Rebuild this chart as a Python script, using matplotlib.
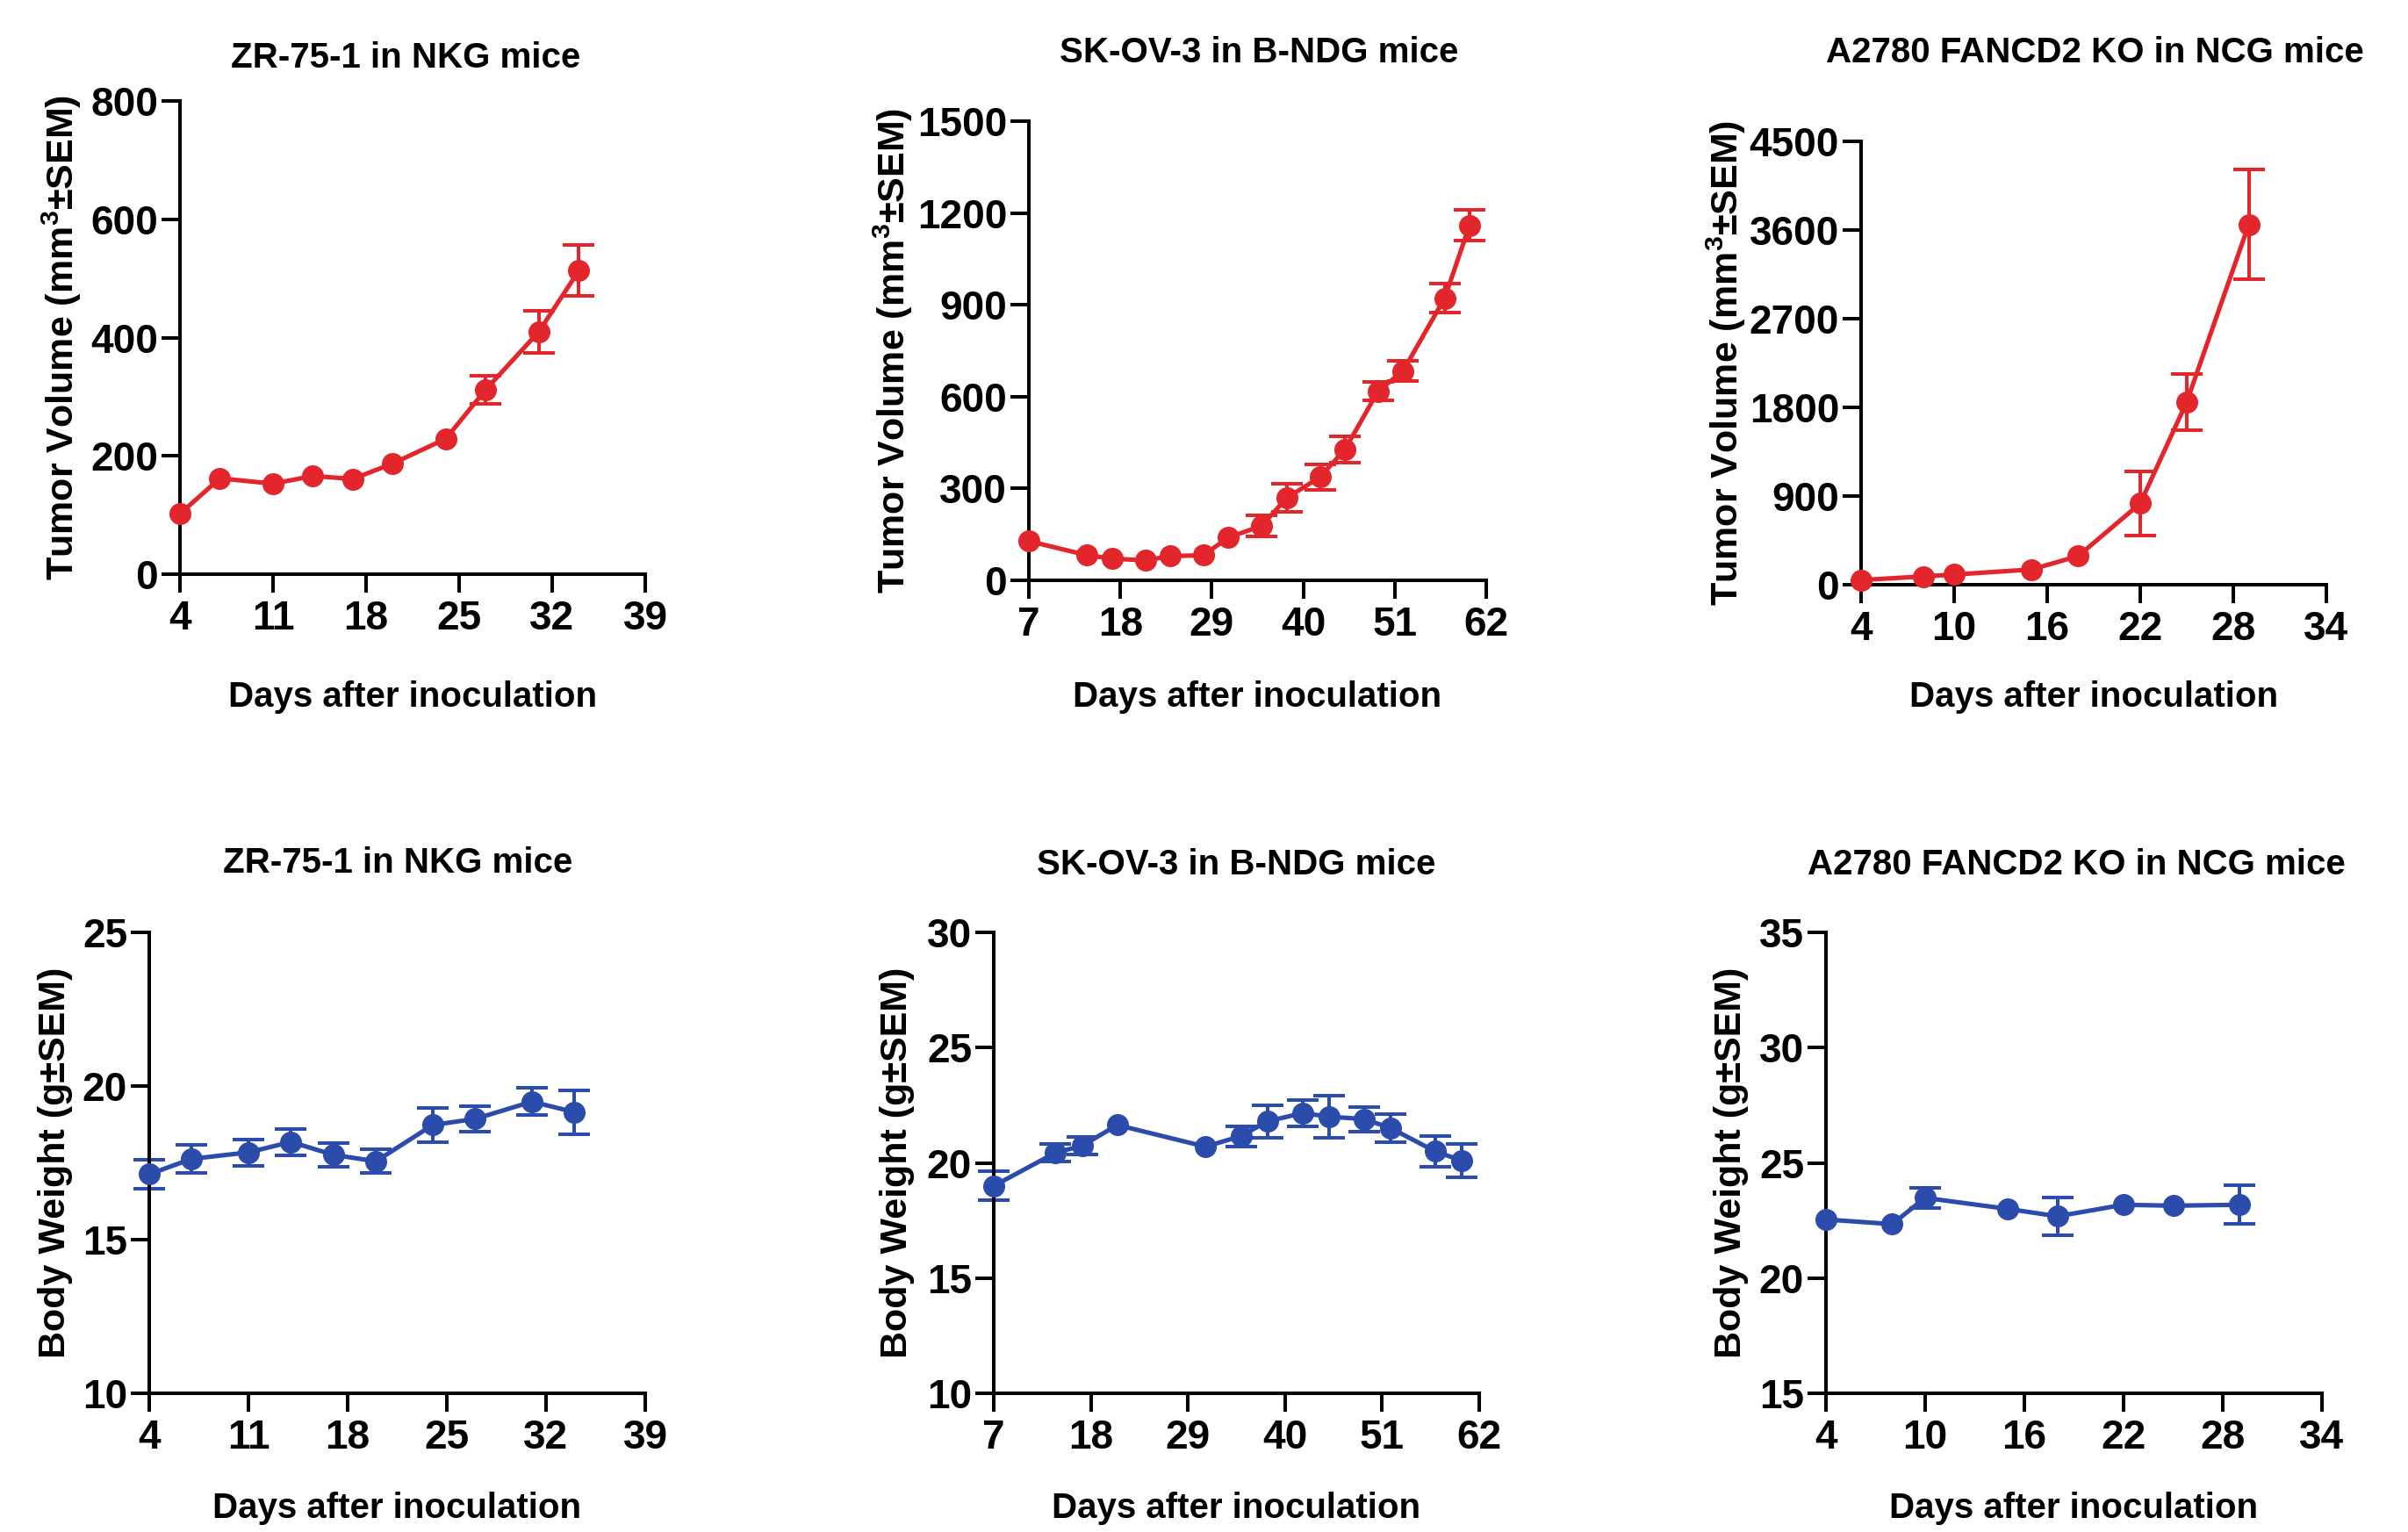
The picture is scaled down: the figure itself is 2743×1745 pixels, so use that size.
import matplotlib
matplotlib.use('Agg')
import matplotlib.pyplot as plt
import numpy as np
from matplotlib.transforms import blended_transform_factory as btf

plt.rcParams['font.family'] = ['Liberation Sans', 'DejaVu Sans']
plt.rcParams['font.weight'] = 'bold'
plt.rcParams['mathtext.fontset'] = 'custom'
plt.rcParams['mathtext.rm'] = 'Liberation Sans:bold'
plt.rcParams['mathtext.bf'] = 'Liberation Sans:bold'
plt.rcParams['mathtext.default'] = 'rm'

# ---------------- data ----------------
titles = ["ZR-75-1 in NKG mice", "SK-OV-3 in B-NDG mice", "A2780 FANCD2 KO in NCG mice"]
xlabel = "Days after inoculation"
ylabel_tv = r"Tumor Volume (mm$^{3}$±SEM)"
ylabel_bw = "Body Weight (g±SEM)"

# Tumor volume (SEM 0 = error bar too small to be seen behind the symbol)
zr_tv_days = [4, 7, 11, 14, 17, 20, 24, 27, 31, 34]
zr_tv_mean = [102, 162, 153, 166, 161, 187, 229, 312, 410, 513]
zr_tv_sem = [0, 0, 0, 0, 0, 0, 0, 24, 36, 43]

sk_tv_days = [7, 14, 17, 21, 24, 28, 31, 35, 38, 42, 45, 49, 52, 57, 60]
sk_tv_mean = [128, 82, 71, 65, 79, 82, 140, 178, 269, 337, 427, 618, 684, 922, 1160]
sk_tv_sem = [0, 0, 0, 0, 0, 0, 0, 34, 46, 43, 44, 30, 34, 46, 50]

a2_tv_days = [4, 8, 10, 15, 18, 22, 25, 29]
a2_tv_mean = [47, 84, 103, 155, 291, 825, 1856, 3657]
a2_tv_sem = [0, 0, 0, 0, 0, 323, 286, 555]

# Body weight
zr_bw_days = [4, 7, 11, 14, 17, 20, 24, 27, 31, 34]
zr_bw_mean = [17.13, 17.63, 17.84, 18.18, 17.76, 17.55, 18.73, 18.93, 19.49, 19.15]
zr_bw_sem = [0.48, 0.45, 0.43, 0.43, 0.38, 0.38, 0.57, 0.41, 0.44, 0.72]

sk_bw_days = [7, 14, 17, 21, 31, 35, 38, 42, 45, 49, 52, 57, 60]
sk_bw_mean = [19.0, 20.44, 20.74, 21.64, 20.7, 21.16, 21.8, 22.16, 22.0, 21.9, 21.5, 20.5, 20.1]
sk_bw_sem = [0.63, 0.37, 0.37, 0, 0, 0.44, 0.71, 0.57, 0.93, 0.53, 0.6, 0.68, 0.72]

a2_bw_days = [4, 8, 10, 15, 18, 22, 25, 29]
a2_bw_mean = [22.54, 22.34, 23.48, 23.0, 22.68, 23.18, 23.14, 23.18]
a2_bw_sem = [0, 0, 0.45, 0, 0.82, 0, 0, 0.83]

# axis ticks
xticks_sets = [[4, 11, 18, 25, 32, 39], [7, 18, 29, 40, 51, 62], [4, 10, 16, 22, 28, 34]]
yticks_tv = [[0, 200, 400, 600, 800], [0, 300, 600, 900, 1200, 1500], [0, 900, 1800, 2700, 3600, 4500]]
yticks_bw = [[10, 15, 20, 25], [10, 15, 20, 25, 30], [15, 20, 25, 30, 35]]

# ---------------- layout (pixels of a 2743x1745 canvas) ----------------
W, H = 2743, 1745
RED = '#E3262B'
BLUE = '#2B4CAA'

boxes = [  # L, R, T, B
    (205, 735, 115, 654),
    (1172, 1693, 138, 661),
    (2120, 2650, 161, 666),
    (170, 735, 1062, 1587),
    (1132, 1685, 1062, 1587),
    (2080, 2645, 1062, 1587),
]
title_pos = [(462, 66), (1434, 60), (2386, 60), (453, 983), (1408, 985), (2365, 985)]
ylab_x = [70, 1017, 1966, 63, 1022, 1972]
xlab_y = [794, 794, 794, 1718, 1718, 1718]

panels = [
    (zr_tv_days, zr_tv_mean, zr_tv_sem, RED, xticks_sets[0], yticks_tv[0], titles[0], ylabel_tv),
    (sk_tv_days, sk_tv_mean, sk_tv_sem, RED, xticks_sets[1], yticks_tv[1], titles[1], ylabel_tv),
    (a2_tv_days, a2_tv_mean, a2_tv_sem, RED, xticks_sets[2], yticks_tv[2], titles[2], ylabel_tv),
    (zr_bw_days, zr_bw_mean, zr_bw_sem, BLUE, xticks_sets[0], yticks_bw[0], titles[0], ylabel_bw),
    (sk_bw_days, sk_bw_mean, sk_bw_sem, BLUE, xticks_sets[1], yticks_bw[1], titles[1], ylabel_bw),
    (a2_bw_days, a2_bw_mean, a2_bw_sem, BLUE, xticks_sets[2], yticks_bw[2], titles[2], ylabel_bw),
]

fig = plt.figure(figsize=(W / 100, H / 100), dpi=100)
fig.patch.set_facecolor('white')

for i, (days, mean, sem, col, xt, yt, title, ylab) in enumerate(panels):
    L, R, T, B = boxes[i]
    ax = fig.add_axes([L / W, 1 - B / H, (R - L) / W, (B - T) / H])
    d = np.asarray(days, float)
    m = np.asarray(mean, float)
    s = np.asarray(sem, float)
    vis = s > 0
    # error bars (only those large enough to be visible)
    ax.errorbar(d[vis], m[vis], yerr=s[vis], fmt='none', ecolor=col,
                elinewidth=2.9, capsize=13, capthick=2.9, clip_on=False, zorder=2)
    # line and symbols
    ax.plot(d, m, color=col, lw=3.7, marker='o', ms=17, mfc=col, mec=col,
            clip_on=False, zorder=3)
    ax.set_xlim(xt[0], xt[-1])
    ax.set_ylim(yt[0], yt[-1])
    ax.set_xticks(xt)
    ax.set_yticks(yt)
    for sp in ['top', 'right']:
        ax.spines[sp].set_visible(False)
    for sp in ['left', 'bottom']:
        ax.spines[sp].set_linewidth(2.9)
        ax.spines[sp].set_color('black')
    ax.tick_params(axis='both', direction='out', length=15, width=2.9, labelsize=33, color='black')
    ax.tick_params(axis='x', pad=6)
    ax.tick_params(axis='y', pad=3)
    for lab in ax.get_xticklabels() + ax.get_yticklabels():
        lab.set_fontweight('bold')

    ax.set_xlabel(xlabel, fontsize=29, fontweight='bold')
    ax.xaxis.set_label_coords(0.5, 1 - xlab_y[i] / H, transform=btf(ax.transAxes, fig.transFigure))
    ax.xaxis.label.set_va('center')

    ax.set_ylabel(ylab, fontsize=31, fontweight='bold')
    ax.yaxis.set_label_coords(ylab_x[i] / W, 0.5, transform=btf(fig.transFigure, ax.transAxes))
    ax.yaxis.label.set_va('center')

    tx, ty = title_pos[i]
    ax.set_title(title, fontsize=29, fontweight='bold', pad=0,
                 x=(tx - L) / (R - L), y=(B - ty) / (B - T), va='center', ha='center')

fig.savefig('out.png', dpi=100, facecolor='white')
